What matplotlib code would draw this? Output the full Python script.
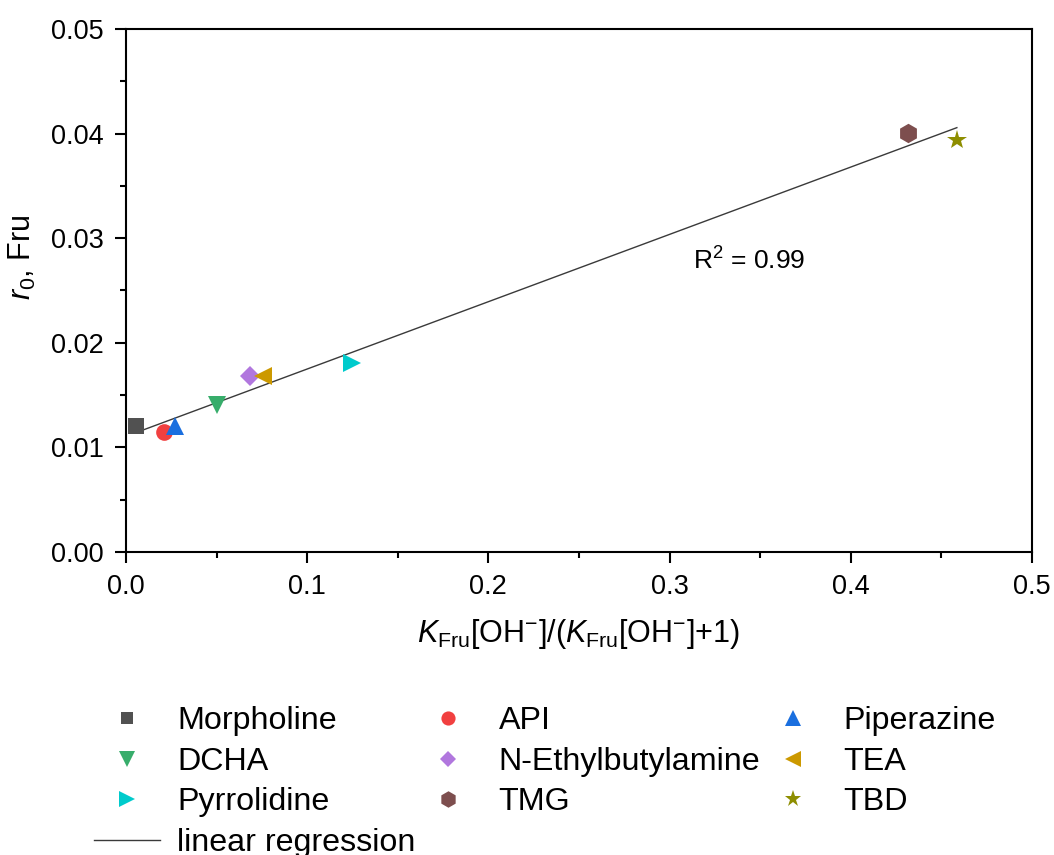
import numpy as np
import matplotlib
matplotlib.use("Agg")
import matplotlib.pyplot as plt
from matplotlib.ticker import MultipleLocator, FormatStrFormatter

plt.rcParams['font.family'] = ['Liberation Sans', 'DejaVu Sans']
plt.rcParams['mathtext.fontset'] = 'custom'
plt.rcParams['mathtext.rm'] = 'Liberation Sans'
plt.rcParams['mathtext.it'] = 'Liberation Sans:italic'
plt.rcParams['mathtext.bf'] = 'Liberation Sans:bold'

names = ["Morpholine", "API", "Piperazine", "DCHA", "N-Ethylbutylamine",
         "TEA", "Pyrrolidine", "TMG", "TBD"]
x_vals = [0.0055, 0.021, 0.027, 0.0502, 0.0684, 0.0756, 0.1247, 0.4316, 0.4586]
y_vals = [0.0120, 0.0115, 0.0120, 0.01405, 0.0168, 0.0168, 0.0181, 0.0401, 0.0394]
colors = ["#515151", "#F14040", "#1A6FDF", "#37AD6B", "#B177DE",
          "#CC9900", "#00CBCC", "#7D4E4E", "#8E8E00"]
markers = ["s", "o", "^", "v", "D", "<", ">", "h", "*"]
msizes = [11, 12, 13, 13, 10, 13, 13, 14, 15]

fig = plt.figure(figsize=(10.54, 8.55), dpi=100)
ax = fig.add_axes([0.1195, 0.3544, 0.8595, 0.6117])

handles = {}
for n, xv, yv, c, m, ms in zip(names, x_vals, y_vals, colors, markers, msizes):
    h, = ax.plot([xv], [yv], linestyle='none', marker=m, color=c,
                 markersize=ms, markeredgewidth=0, label=n, zorder=3)
    handles[n] = h

slope, intercept = np.polyfit(x_vals, y_vals, 1)
xf = np.array([min(x_vals), max(x_vals)])
lr, = ax.plot(xf, slope * xf + intercept, color="#3a3a3a", lw=1.0,
              label="linear regression", zorder=2)

ax.text(0.313, 0.0278, "R$^2$ = 0.99", fontsize=19, ha='left', va='center')

ax.set_xlim(0, 0.5)
ax.set_ylim(0, 0.05)
ax.xaxis.set_major_locator(MultipleLocator(0.1))
ax.xaxis.set_minor_locator(MultipleLocator(0.05))
ax.yaxis.set_major_locator(MultipleLocator(0.01))
ax.yaxis.set_minor_locator(MultipleLocator(0.005))
ax.xaxis.set_major_formatter(FormatStrFormatter('%.1f'))
ax.yaxis.set_major_formatter(FormatStrFormatter('%.2f'))
ax.tick_params(which='major', direction='out', length=8, width=1.5,
               labelsize=19.5, top=False, right=False, pad=8)
ax.tick_params(which='minor', direction='out', length=4.5, width=1.5,
               top=False, right=False)
for s in ax.spines.values():
    s.set_linewidth(1.5)

ax.set_xlabel(r"$K_{\mathrm{Fru}}$[OH$^{\mathrm{-}}$]/($K_{\mathrm{Fru}}$[OH$^{\mathrm{-}}$]+1)",
              fontsize=22, labelpad=12)
ax.set_ylabel(r"$r_0$, Fru", fontsize=22)
ax.yaxis.set_label_coords(-0.097, 0.564)

order = ["Morpholine", "DCHA", "Pyrrolidine", None,
         "API", "N-Ethylbutylamine", "TMG",
         "Piperazine", "TEA", "TBD"]
hl = [handles[o] if o else lr for o in order]
ll = [o if o else "linear regression" for o in order]
fig.legend(hl, ll, ncol=3, loc='upper left', bbox_to_anchor=(0.089, 0.174),
           bbox_transform=fig.transFigure, frameon=False, fontsize=23.2,
           markerscale=0.85, handlelength=2.05, handletextpad=0.53,
           columnspacing=0.0, labelspacing=0.33, borderaxespad=0,
           borderpad=0)
fig.savefig("out.png", dpi=100)
